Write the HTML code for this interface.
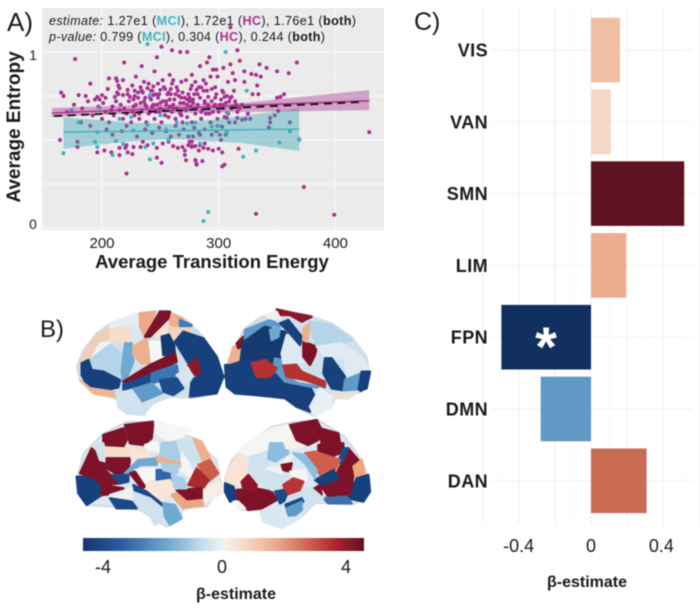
<!DOCTYPE html>
<html lang="en">
<head>
<meta charset="utf-8">
<title>Transition energy, entropy and network estimates</title>
<style>
html,body{margin:0;padding:0;background:#fff;width:700px;height:609px;overflow:hidden}
svg{display:block;filter:blur(.5px)}
text{font-family:"Liberation Sans","DejaVu Sans",sans-serif;fill:#1a1a1a}
.b{font-weight:700}
.parcel polygon{stroke-linejoin:round}
</style>
</head>
<body>
<svg id="figure" width="700" height="609" viewBox="0 0 700 609" xmlns="http://www.w3.org/2000/svg">
<defs>
<linearGradient id="cbar" x1="0" x2="1" y1="0" y2="0">
<stop offset="0" stop-color="#15346b"/><stop offset=".14" stop-color="#2c5fa5"/><stop offset=".3" stop-color="#6ea7cf"/><stop offset=".42" stop-color="#c3dbe9"/><stop offset=".5" stop-color="#f3f3f1"/><stop offset=".58" stop-color="#f6d9c7"/><stop offset=".7" stop-color="#e8a387"/><stop offset=".82" stop-color="#c9564a"/><stop offset=".91" stop-color="#a81f2e"/><stop offset="1" stop-color="#5e1020"/>
</linearGradient>
</defs>

<g id="panelA"></g>
<text x="7" y="31" font-size="26">A)</text>
<text x="49" y="25" font-size="12.6" textLength="307" lengthAdjust="spacing"><tspan font-style="italic">estimate:</tspan> 1.27e1 (<tspan class="b" style="fill:#41b3c0">MCI</tspan>), 1.72e1 (<tspan class="b" style="fill:#a8308e">HC</tspan>), 1.76e1 (<tspan class="b">both</tspan>)</text>
<text x="49" y="41" font-size="12.6" textLength="276" lengthAdjust="spacing"><tspan font-style="italic">p-value:</tspan> 0.799 (<tspan class="b" style="fill:#41b3c0">MCI</tspan>), 0.304 (<tspan class="b" style="fill:#a8308e">HC</tspan>), 0.244 (<tspan class="b">both</tspan>)</text>
<text class="b" font-size="19" text-anchor="middle" transform="translate(20 127) rotate(-90)">Average Entropy</text>
<text class="b" font-size="18.5" text-anchor="middle" x="212" y="268">Average Transition Energy</text>

<text x="40" y="337" font-size="24">B)</text>

<g class="parcel" transform="translate(60 300) scale(.3333)">
<polygon fill="#cfe0ec" points="50,200 70,150 110,100 150,70 230,40 320,30 380,60 430,110 470,170 490,230 470,280 400,295 330,290 280,310 250,345 200,340 170,300 160,290 90,270 60,240"/>
<polygon fill="#f0cdb5" points="60,190 100,115 130,95 150,75 150,125 95,180"/>
<polygon fill="#eef2f4" points="95,175 120,130 150,125 150,135 95,185"/>
<polygon fill="#e6edf2" points="150,70 230,40 245,70 215,85 150,90"/>
<polygon fill="#f5dccb" points="150,90 205,80 215,125 150,125"/>
<polygon fill="#dbe8f1" points="215,85 245,75 255,110 218,135"/>
<polygon fill="#b5d4e8" points="90,180 150,135 195,170 170,235 130,215 95,205"/>
<polygon fill="#6ea9d2" points="195,130 215,130 220,185 190,260 185,215"/>
<polygon fill="#ecb08f" points="220,140 260,115 270,190 245,190 220,165"/>
<polygon fill="#f6f6f4" points="270,125 310,125 305,185 275,185"/>
<polygon fill="#eda888" points="240,40 285,35 275,70 255,110 240,80"/>
<polygon fill="#f6e2d6" points="270,95 320,60 335,90 300,115"/>
<polygon fill="#ecb08f" points="330,40 370,55 350,80 330,75"/>
<polygon fill="#3f7db8" points="360,60 395,75 385,90 360,80"/>
<polygon fill="#7d1228" points="255,110 300,35 330,35 325,55 270,110"/>
<polygon fill="#153a70" points="305,110 340,100 345,170 310,165"/>
<polygon fill="#f3d3be" points="325,85 395,85 365,125 345,125"/>
<polygon fill="#17417c" points="345,125 370,95 430,115 470,170 490,230 470,280 390,290 395,240 420,225 385,190"/>
<polygon fill="#7d1228" points="190,245 270,195 345,160 350,185 280,220 205,255"/>
<polygon fill="#8f1529" points="385,195 410,175 420,220 405,225"/>
<polygon fill="#17417c" points="65,190 85,180 95,210 130,215 180,240 175,262 140,270 85,262 65,225"/>
<polygon fill="#1b4a87" points="190,255 270,225 275,250 210,270 190,270"/>
<polygon fill="#3a76b4" points="275,220 350,195 355,225 275,250"/>
<polygon fill="#d5e6f0" points="350,225 385,205 395,235 380,255 355,250"/>
<polygon fill="#1d4c8b" points="300,240 350,235 370,265 340,285 310,275"/>
<polygon fill="#5e9bc9" points="210,270 275,250 305,280 245,305 215,290"/>
<polygon fill="#cfe2ee" points="170,280 215,270 240,305 255,345 200,340 175,320"/>
<polygon fill="#eeb596" points="60,240 90,265 160,275 165,292 100,280"/>
</g>

<g class="parcel" transform="translate(215 300) scale(.3333)">
<polygon fill="#cfe0ec" points="30,230 45,170 85,90 130,55 190,30 280,45 350,70 410,110 455,170 465,230 440,275 360,295 350,320 300,350 240,320 210,295 120,285 60,280"/>
<polygon fill="#17417c" points="30,230 45,175 85,115 130,80 210,95 215,295 120,285 60,280"/>
<polygon fill="#f0b18e" points="40,190 55,140 75,140 70,180"/>
<polygon fill="#7d1228" points="65,130 85,110 85,135 70,145"/>
<polygon fill="#17417c" points="30,195 65,195 110,240 130,285 60,280 35,260"/>
<polygon fill="#5e9bc9" points="90,90 165,60 195,75 150,80 90,120"/>
<polygon fill="#153a70" points="80,130 150,80 215,100 200,170 165,190 85,180"/>
<polygon fill="#17417c" points="70,190 115,180 130,230 205,250 205,290 150,285 110,240"/>
<polygon fill="#17417c" points="210,250 285,260 300,290 285,335 245,320 210,295"/>
<polygon fill="#6ea9d2" points="165,90 195,80 190,110 170,120"/>
<polygon fill="#5e9bc9" points="180,175 200,180 205,225 250,250 330,262 300,262 210,245 175,205"/>
<polygon fill="#b6312f" points="110,190 150,180 185,205 165,230 125,230"/>
<polygon fill="#b6312f" points="205,195 240,190 260,215 330,245 330,260 270,240 215,230"/>
<polygon fill="#dcebf3" points="215,105 250,140 270,185 205,190 200,160"/>
<polygon fill="#7d1228" points="265,125 305,140 300,165 285,195 265,170"/>
<polygon fill="#8f1529" points="185,28 240,40 290,50 260,65 225,45 190,45"/>
<polygon fill="#17417c" points="195,70 220,60 260,110 255,135 220,95"/>
<polygon fill="#eeb08c" points="265,85 290,65 275,125 265,120"/>
<polygon fill="#b5d4e8" points="285,65 350,75 410,120 380,130 340,170 300,130"/>
<polygon fill="#dfeaf2" points="305,140 380,130 440,170 460,205 395,240 390,175 335,175"/>
<polygon fill="#17417c" points="330,175 350,175 390,230 380,270 350,265 325,220"/>
<polygon fill="#5e9bc9" points="390,240 440,220 430,270 385,280"/>
<polygon fill="#17417c" points="440,215 465,215 455,265 430,275"/>
<polygon fill="#e8eff4" points="315,265 350,290 350,320 300,350 285,320"/>
<polygon fill="#e9e0da" points="355,280 430,275 400,295 360,295"/>
<polygon fill="#f3f1ef" points="150,45 185,35 195,55 165,55"/>
</g>

<g class="parcel" transform="translate(60 410) scale(.3333)">
<polygon fill="#dbe8f1" points="50,210 70,130 130,70 200,35 300,35 400,85 470,150 485,230 440,290 370,295 360,330 320,350 270,320 240,300 150,290 80,285 55,250"/>
<polygon fill="#17417c" points="50,200 100,200 125,225 125,255 80,285 55,250"/>
<polygon fill="#7d1228" points="60,190 95,115 135,155 135,180 105,205"/>
<polygon fill="#7d1228" points="105,205 135,180 180,220 125,225"/>
<polygon fill="#7d1228" points="125,225 190,235 190,250 125,255"/>
<polygon fill="#7d1228" points="130,75 190,55 200,90 190,110 130,108"/>
<polygon fill="#7d1228" points="195,45 280,35 275,85 250,105 210,100"/>
<polygon fill="#cfe2ee" points="105,105 130,100 140,155 120,150"/>
<polygon fill="#f6dcca" points="135,112 190,115 255,115 270,140 210,135 140,140"/>
<polygon fill="#7d1228" points="140,145 210,145 205,185 175,195 140,175"/>
<polygon fill="#f8e3d5" points="210,115 255,125 285,150 230,155 215,145"/>
<polygon fill="#f6f6f4" points="285,35 390,60 355,90 320,90 290,70"/>
<polygon fill="#f6f6f4" points="255,105 290,95 300,125 265,120"/>
<polygon fill="#a9cde5" points="305,100 345,95 365,155 300,140"/>
<polygon fill="#cde2ef" points="350,90 405,90 430,160 390,165 365,125"/>
<polygon fill="#f4f5f5" points="365,130 390,165 400,210 365,180"/>
<polygon fill="#eeb08c" points="400,85 425,95 450,145 430,155"/>
<polygon fill="#cc5f48" points="415,165 450,150 475,190 445,215"/>
<polygon fill="#a82a2f" points="385,225 410,175 445,210 430,235"/>
<polygon fill="#f9eee5" points="430,240 480,215 485,250 440,275"/>
<polygon fill="#7d1228" points="350,240 425,235 425,265 380,270"/>
<polygon fill="#eca680" points="335,255 350,250 380,275 425,270 430,285 370,295"/>
<polygon fill="#6ea9d2" points="195,190 235,150 290,145 290,165 240,165 205,195"/>
<polygon fill="#eeb08c" points="290,140 360,160 360,170 295,155"/>
<polygon fill="#f4f5f5" points="225,180 285,175 290,205 250,215"/>
<polygon fill="#7d1228" points="210,190 225,185 255,230 245,235"/>
<polygon fill="#1b4a87" points="155,195 205,195 205,215 180,220"/>
<polygon fill="#3166ad" points="290,180 330,180 335,210 290,210"/>
<polygon fill="#a9cde5" points="335,195 370,205 380,235 345,235"/>
<polygon fill="#a9cde5" points="305,160 355,165 350,190 310,180"/>
<polygon fill="#f9e6d8" points="260,220 330,210 340,240 310,270 260,250"/>
<polygon fill="#1b4a87" points="220,225 260,245 310,285 290,290 225,245"/>
<polygon fill="#cfe2ee" points="215,245 270,265 300,290 320,320 285,345 265,310 230,290"/>
<polygon fill="#eef2f4" points="150,255 215,235 215,270 150,265"/>
<polygon fill="#1b4a87" points="150,265 215,275 230,295 170,295"/>
<polygon fill="#6ea9d2" points="310,280 345,285 365,325 330,345 315,320"/>
</g>

<g class="parcel" transform="translate(215 410) scale(.3333)">
<polygon fill="#dbe8f1" points="30,200 50,150 110,90 170,50 240,35 310,30 390,80 440,150 465,210 455,265 410,285 330,280 300,280 260,320 200,355 145,335 135,300 80,300 35,260"/>
<polygon fill="#f9e3d4" points="30,200 70,130 105,140 90,205 60,230"/>
<polygon fill="#f4f5f5" points="70,125 115,85 165,60 180,100 125,135 100,135"/>
<polygon fill="#f4f5f5" points="170,55 225,45 235,80 200,95 180,95"/>
<polygon fill="#cfe2ee" points="105,140 165,125 160,165 125,210 100,195"/>
<polygon fill="#8cbde0" points="165,100 210,100 220,130 180,155 160,145"/>
<polygon fill="#f7f0ea" points="205,90 240,75 265,110 215,115"/>
<polygon fill="#7d1228" points="225,45 305,30 320,60 310,90 280,105 245,90"/>
<polygon fill="#7d1228" points="315,55 370,70 375,100 320,105"/>
<polygon fill="#7d1228" points="310,105 385,100 385,125 350,140 310,125"/>
<polygon fill="#7d1228" points="385,150 400,115 430,150 410,195 365,190"/>
<polygon fill="#1b4a87" points="385,115 400,115 380,160 370,155"/>
<polygon fill="#cf5f4b" points="270,130 300,125 375,150 360,180 315,195 300,165"/>
<polygon fill="#eba679" points="415,170 440,150 450,200 425,205"/>
<polygon fill="#17417c" points="425,205 460,195 465,245 445,275 400,265"/>
<polygon fill="#7d1228" points="320,230 370,190 415,195 410,235 395,265 340,260"/>
<polygon fill="#17417c" points="300,210 355,180 370,205 320,225"/>
<polygon fill="#7d1228" points="290,240 315,225 320,255 295,250"/>
<polygon fill="#3f70ad" points="325,265 395,260 410,280 340,280"/>
<polygon fill="#17417c" points="30,220 55,230 65,265 45,275 30,245"/>
<polygon fill="#7d1228" points="65,240 120,235 170,245 185,270 140,295 100,300 70,275"/>
<polygon fill="#8f1529" points="80,215 100,195 125,225 120,245 85,235"/>
<polygon fill="#f4f5f5" points="55,275 70,275 90,295 70,295"/>
<polygon fill="#cfe2ee" points="130,215 165,175 215,190 215,235 170,240"/>
<polygon fill="#f4f1ee" points="155,175 200,170 220,140 235,135 215,160 200,190"/>
<polygon fill="#7d1228" points="200,165 230,160 225,185 205,180"/>
<polygon fill="#8cbde0" points="235,130 270,135 305,180 300,205 270,160"/>
<polygon fill="#f4f5f5" points="225,185 270,180 275,210 235,205"/>
<polygon fill="#b83537" points="205,225 235,205 265,215 250,250 215,255"/>
<polygon fill="#1b4a87" points="180,245 205,240 220,265 195,280"/>
<polygon fill="#cfe2ee" points="220,260 290,235 325,265 300,280 265,300 230,325 205,300"/>
<polygon fill="#1b4a87" points="210,285 260,265 265,275 215,295"/>
<polygon fill="#5e9bc9" points="205,300 260,275 260,300 230,325"/>
<polygon fill="#d9e8f1" points="140,310 205,285 215,325 260,320 200,355 145,335"/>
</g>

<rect x="83" y="538" width="281" height="13" fill="url(#cbar)"/>
<text x="103" y="573" font-size="18" text-anchor="middle">-4</text>
<text x="222" y="573" font-size="18" text-anchor="middle">0</text>
<text x="346" y="573" font-size="18" text-anchor="middle">4</text>
<text class="b" x="236" y="599" font-size="16" text-anchor="middle">β-estimate</text>

<text x="414" y="30" font-size="25">C)</text>
<g id="panelC"></g>
<text class="b" x="546" y="366" font-size="56" text-anchor="middle" style="fill:#fff">*</text>
<text class="b" x="587" y="587" font-size="16" text-anchor="middle">β-estimate</text>
</svg>

<script>
/* Panel A data */
const energyTicks = [200, 300, 400];
const energyMinorTicks = [150, 250, 350];
const entropyGrid = [0, 0.25, 0.5, 0.75, 1];
const entropyMinorGrid = [0.125, 0.375, 0.625, 0.875];
const entropyTicks = [0, 1];

const hcEnergy = [
177,219,251,260,267,273,247,234,229,212,
206,218,190,245,258,165,167,180,196,200,
198,201,205,213,211,215,222,218,224,227,
233,237,241,244,252,261,239,244,250,257,
264,269,277,281,273,250,258,267,278,213,
214,310,316,292,318,367,335,341,350,360,
332,336,322,328,312,304,310,295,298,284,
290,277,287,293,299,308,314,322,333,329,
334,350,353,356,304,305,311,291,297,344,
348,351,344,343,361,327,323,320,316,314,
307,299,303,301,284,278,429,373,332,399,
317,300,303,295,291,288,287,283,280,286,
281,303,305,280,277,275,164,179,179,196,
202,208,221,215,215,220,222,221,226,227,
233,235,239,247,247,251,252,257,261,265,
271,271,272,280,281,274,277,284,269,277,
170,176,183,188,192,197,203,208,212,216,
219,223,226,229,231,234,236,238,240,242,
244,246,248,250,252,254,256,258,260,262,
264,266,268,270,272,274,276,278,280,282,
284,286,288,290,292,294,296,298,300,302,
304,306,308,310,312,314,316,318,320,325,
186,194,200,206,210,214,218,222,225,228,
232,235,238,241,243,245,247,249,251,253,
255,257,259,261,263,265,267,269,271,273,
275,277,279,281,283,285,287,289,291,293,
295,297,299,301,303,305,307,309,311,313,
182,190,204,209,217,221,230,237,243,249,
255,259,263,266,270,274,279,283,288,294,
298,302,306,228,233,240,246,253,260,268,
272,276,280,285,289,294,226,231,236,242,
248,254,259,263,268,275,282,288,203,209,
215,221,227,232,237,243,249,255,261,267,
273,279,285,291,297,303,309,315,228,234
];
const hcEntropy = [
.96,.94,1.03,1.01,1.0,1.0,.97,.92,.86,.85,
.85,.84,.82,.89,.87,.77,.75,.755,.745,.755,
.73,.71,.79,.77,.745,.795,.785,.755,.745,.73,
.71,.74,.745,.755,.84,.84,.795,.805,.785,.77,
.80,.77,.81,.785,.73,.71,.73,.71,.71,.835,
.81,1.14,1.01,.97,.95,.94,.93,.91,.89,.88,
.87,.86,.89,.875,.88,.91,.93,.90,.90,.92,
.94,.87,.84,.86,.86,.83,.84,.83,.81,.76,
.76,.74,.745,.76,.77,.745,.745,.745,.74,.625,
.64,.665,.60,.57,.60,.62,.62,.615,.625,.60,
.625,.58,.575,.53,.53,.52,.545,.233,.08,.075,
.45,.45,.43,.44,.45,.48,.455,.44,.385,.38,
.36,.35,.36,.465,.465,.49,.50,.49,.46,.43,
.44,.43,.31,.455,.415,.455,.43,.47,.42,.46,
.46,.49,.47,.455,.40,.37,.48,.49,.465,.455,
.44,.415,.385,.385,.365,.47,.49,.47,.46,.46,
.66,.70,.68,.72,.64,.69,.66,.67,.72,.70,
.68,.72,.66,.70,.74,.67,.72,.69,.65,.73,
.70,.66,.74,.68,.72,.64,.76,.69,.66,.73,
.68,.75,.64,.71,.67,.76,.69,.73,.65,.70,
.74,.67,.71,.78,.65,.72,.69,.76,.66,.73,
.68,.71,.65,.74,.69,.72,.66,.68,.70,.65,
.75,.73,.62,.60,.64,.76,.62,.76,.60,.64,
.62,.77,.60,.66,.78,.62,.70,.76,.60,.67,
.72,.63,.79,.70,.62,.78,.66,.60,.74,.63,
.72,.60,.76,.68,.80,.62,.78,.65,.70,.60,
.66,.80,.62,.70,.78,.63,.75,.60,.68,.78,
.60,.58,.56,.53,.55,.58,.52,.56,.54,.57,
.55,.52,.58,.53,.56,.52,.57,.54,.56,.53,
.55,.50,.53,.78,.80,.82,.76,.80,.82,.83,
.84,.79,.83,.80,.82,.79,.81,.77,.83,.78,
.82,.79,.76,.76,.74,.74,.76,.72,.74,.69,
.67,.65,.69,.65,.70,.69,.66,.70,.68,.65,
.70,.68,.66,.68,.70,.70,.72,.70,.75,.78
];
const mciEnergy = [
167,194,196,209,212,218,241,244,237,257,
198,241,239,306,324,369,369,352,332,321,
291,287,361,307,294,307,174,196,239,264,
273,227,284,180,215,250,280,300,225,255
];
const mciEntropy = [
.425,.49,.46,.415,.495,.477,.39,.48,.46,.50,
.685,.755,1.045,1.0,.78,.505,.50,.485,.44,.405,
.09,.04,.55,.655,.575,.545,.67,.545,.585,.60,
.595,.555,.48,.60,.62,.64,.60,.58,.63,.56
];
const hcFitEnergy = [157, 210, 260, 320, 429];
const hcFitValue = [.653, .667, .680, .696, .723];
const hcFitUpper = [.682, .693, .699, .71, .784];
const hcFitLower = [.63, .648, .653, .659, .67];
const mciFitEnergy = [167, 220, 262, 320, 369];
const mciFitValue = [.545, .549, .553, .558, .5625];
const mciFitUpper = [.63, .60, .59, .636, .68];
const mciFitLower = [.45, .49, .505, .483, .4375];
const bothFitEnergy = [159, 423];
const bothFitValue = [.636, .716];

/* Panel C data */
const networks = ['VIS', 'VAN', 'SMN', 'LIM', 'FPN', 'DMN', 'DAN'];
const betaEstimates = [0.16, 0.11, 0.515, 0.195, -0.495, -0.278, 0.307];
const barColors = ['#f0bea2', '#f6d7c5', '#5f1322', '#ecae8e', '#12305f', '#6199c5', '#ca6b53'];
const betaTicks = [-0.4, 0, 0.4];
const betaGrid = [-0.6, -0.4, -0.2, 0, 0.2, 0.4, 0.6];
const betaMinorGrid = [-0.5, -0.3, -0.1, 0.1, 0.3, 0.5];

const NS = 'http://www.w3.org/2000/svg';
function make(parent, tag, attrs, txt) {
  const e = document.createElementNS(NS, tag);
  for (const k in attrs) e.setAttribute(k, attrs[k]);
  if (txt !== undefined) e.textContent = txt;
  parent.appendChild(e);
  return e;
}
/* round the brain parcels and close the gaps between them */
document.querySelectorAll('.parcel').forEach(group => {
  Array.from(group.children).forEach((poly, i) => {
    poly.setAttribute('stroke', i === 0 ? '#d3d9de' : poly.getAttribute('fill'));
    poly.setAttribute('stroke-width', i === 0 ? 5 : 7);
  });
});

const xA = v => 102 + (v - 200) * 1.167;
const yA = v => 228 - 176 * v;
const yALabel = v => 229 - 169 * v;
const A = document.getElementById('panelA');

const panelBg = make(A, 'rect', {x: 42, y: 8, width: 342, height: 222, fill: '#ebebeb'});



energyMinorTicks.forEach(t => {
  const g = make(A, 'line', {x1: xA(t), x2: xA(t), y1: 8, y2: 230, stroke: '#f3f3f3', 'stroke-width': .6});
  
  
});
entropyMinorGrid.forEach(t => {
  const g = make(A, 'line', {x1: 42, x2: 384, y1: yA(t), y2: yA(t), stroke: '#f3f3f3', 'stroke-width': .6});
  
  
});
energyTicks.forEach(t => {
  const g = make(A, 'line', {x1: xA(t), x2: xA(t), y1: 8, y2: 230, stroke: '#fafafa', 'stroke-width': 1.1});
  
  
  const l = make(A, 'text', {x: xA(t), y: 248, 'font-size': 15, 'text-anchor': 'middle'}, String(t));
  
  
});
entropyGrid.forEach(t => {
  const g = make(A, 'line', {x1: 42, x2: 384, y1: yA(t), y2: yA(t), stroke: '#fafafa', 'stroke-width': 1.1});
  
  
});
entropyTicks.forEach(t => {
  const l = make(A, 'text', {x: 33, y: yALabel(t), 'font-size': 14, 'text-anchor': 'middle'}, String(t));
  
  
});

hcEnergy.forEach((e, i) => {
  const p = make(A, 'circle', {cx: xA(e), cy: yA(hcEntropy[i]), r: 2, fill: '#a8308e'});
  
  
});
mciEnergy.forEach((e, i) => {
  const p = make(A, 'circle', {cx: xA(e), cy: yA(mciEntropy[i]), r: 2, fill: '#3fb3bd'});
  
  
});

function bandPoints(xs, up, lo) {
  const top = xs.map((x, i) => xA(x) + ',' + yA(up[i]));
  const bot = xs.map((x, i) => xA(x) + ',' + yA(lo[i])).reverse();
  return top.concat(bot).join(' ');
}
function linePoints(xs, ys) {
  return xs.map((x, i) => xA(x) + ',' + yA(ys[i])).join(' ');
}
const mciBand = make(A, 'polygon', {points: bandPoints(mciFitEnergy, mciFitUpper, mciFitLower), fill: '#3aa7b5', 'fill-opacity': .42});


const hcBand = make(A, 'polygon', {points: bandPoints(hcFitEnergy, hcFitUpper, hcFitLower), fill: '#a8308e', 'fill-opacity': .4});


const mciLine = make(A, 'polyline', {points: linePoints(mciFitEnergy, mciFitValue), fill: 'none', stroke: '#3ab0bd', 'stroke-width': 1.3});


const hcLine = make(A, 'polyline', {points: linePoints(hcFitEnergy, hcFitValue), fill: 'none', stroke: '#a8308e', 'stroke-width': 1.4});


const bothLine = make(A, 'polyline', {points: linePoints(bothFitEnergy, bothFitValue), fill: 'none', stroke: '#111', 'stroke-width': 1.8, 'stroke-dasharray': '8 5.5'});



/* Panel C */
const C = document.getElementById('panelC');
const xC = v => 591 + v * 181;
const yC = i => 50 + i * 71.8;
betaMinorGrid.forEach(t => {
  const g = make(C, 'line', {x1: xC(t), x2: xC(t), y1: 8, y2: 525, stroke: '#f7f7f7', 'stroke-width': .7});
  
  
});
betaGrid.forEach(t => {
  const g = make(C, 'line', {x1: xC(t), x2: xC(t), y1: 8, y2: 525, stroke: '#f1f1f1', 'stroke-width': 1});
  
  
});
networks.forEach((n, i) => {
  const g = make(C, 'line', {x1: 492, x2: 692, y1: yC(i), y2: yC(i), stroke: '#f1f1f1', 'stroke-width': 1});
  
  
});
networks.forEach((n, i) => {
  const v = betaEstimates[i];
  const b = make(C, 'rect', {x: Math.min(xC(0), xC(v)), y: yC(i) - 32.3, width: Math.abs(xC(v) - xC(0)), height: 64.6, fill: barColors[i]});
  
  
  const l = make(C, 'text', {x: 488, y: yC(i) + 6.5, 'font-size': 18, 'font-weight': 700, 'text-anchor': 'end', 'letter-spacing': .4}, n);
  
  
});
betaTicks.forEach(t => {
  const l = make(C, 'text', {x: xC(t) - (t > 0 ? 2 : 0), y: 552, 'font-size': 18, 'text-anchor': 'middle'}, String(t));
  
  
});
</script>
</body>
</html>
